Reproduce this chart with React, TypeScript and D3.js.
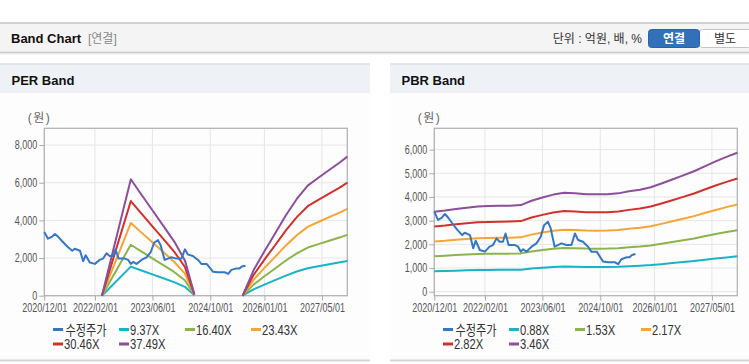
import { useEffect, useRef } from "react";
import * as d3 from "d3";

// 수정주가 (shared by both panels)
const priceDates = [
  "2020-12-01", "2021-01-01", "2021-02-01", "2021-03-01", "2021-04-01", "2021-05-01",
  "2021-06-15", "2021-07-25", "2021-08-15", "2021-09-28", "2021-10-25", "2021-11-15",
  "2021-12-20", "2022-02-01", "2022-03-12", "2022-04-10", "2022-05-10", "2022-06-05",
  "2022-07-03", "2022-07-25", "2022-08-20", "2022-10-12", "2022-11-08", "2022-12-01",
  "2022-12-20", "2023-01-18", "2023-03-01", "2023-04-12", "2023-05-18", "2023-06-15",
  "2023-07-18", "2023-08-10", "2023-09-12", "2023-10-10", "2023-11-08", "2023-12-20",
  "2024-02-01", "2024-03-01", "2024-03-28", "2024-05-08", "2024-06-20", "2024-07-18",
  "2024-09-01", "2024-09-28", "2024-10-25", "2024-12-06", "2025-02-03", "2025-03-01",
  "2025-03-28", "2025-05-10", "2025-06-05", "2025-06-25", "2025-07-25",
];
const priceValues = [
  3380, 3030, 3120, 3280, 3100, 2890,
  2600, 2390, 2490, 2390, 1830, 2150,
  1760, 1690, 1900, 1970, 2250, 2110,
  2110, 2460, 1970, 1970, 1900, 1690,
  1790, 1690, 1900, 2040, 2320, 2810,
  2950, 2670, 1900, 1970, 2040, 1970,
  1970, 2460, 2180, 2110, 1900, 1690,
  1690, 1480, 1270, 1240, 1240, 1160,
  1370, 1450, 1450, 1550, 1590,
];

// PER band (null = no band)
const perDates = [
  "2022-04-01", "2022-12-01", "2023-03-01", "2023-06-01", "2023-09-01", "2023-12-01",
  "2024-03-01", "2024-05-20", "2024-12-01", "2025-07-01", "2025-10-01", "2026-01-01",
  "2026-04-01", "2026-07-01", "2026-10-01", "2027-01-01", "2027-04-01", "2027-07-01",
  "2027-10-01", "2027-12-01",
];
const per937 = [0, 1546, 1340, 1134, 928, 721, 469, 19, null, 0, 337, 590, 825, 1068, 1284, 1462, 1565, 1668, 1771, 1846];
const per1640 = [0, 2706, 2345, 1984, 1624, 1263, 820, 33, null, 0, 590, 1033, 1443, 1870, 2247, 2558, 2739, 2919, 3100, 3231];
const per2343 = [0, 3866, 3350, 2835, 2320, 1804, 1172, 47, null, 0, 843, 1476, 2062, 2671, 3210, 3655, 3913, 4171, 4428, 4616];
const per3046 = [0, 5026, 4356, 3686, 3016, 2345, 1523, 61, null, 0, 1097, 1919, 2680, 3472, 4173, 4752, 5087, 5422, 5757, 6001];
const per3749 = [0, 6186, 5361, 4536, 3712, 2887, 1875, 75, null, 0, 1350, 2362, 3299, 4274, 5136, 5848, 6261, 6673, 7086, 7386];
const perLabels = ["9.37X", "16.40X", "23.43X", "30.46X", "37.49X"];
const perTicks = [0, 2000, 4000, 6000, 8000];

// PBR band
const pbrDates = [
  "2020-12-01", "2021-03-01", "2021-06-01", "2021-09-01", "2021-12-01", "2022-03-01",
  "2022-06-01", "2022-09-01", "2022-12-01", "2023-03-01", "2023-06-01", "2023-09-01",
  "2023-12-01", "2024-03-01", "2024-06-01", "2024-09-01", "2024-12-01", "2025-03-01",
  "2025-06-01", "2025-09-01", "2025-12-01", "2026-03-01", "2026-06-01", "2026-09-01",
  "2026-12-01", "2027-03-01", "2027-06-01", "2027-09-01", "2027-12-01",
];
const pbr088 = [858, 871, 889, 902, 915, 920, 922, 924, 930, 977, 1012, 1043, 1062, 1056, 1047, 1045, 1047, 1056, 1078, 1096, 1122, 1162, 1206, 1250, 1294, 1346, 1399, 1448, 1492];
const pbr153 = [1492, 1515, 1545, 1568, 1591, 1599, 1603, 1607, 1617, 1698, 1760, 1813, 1847, 1836, 1821, 1818, 1821, 1836, 1874, 1905, 1951, 2020, 2096, 2173, 2249, 2341, 2433, 2517, 2593];
const pbr217 = [2116, 2148, 2192, 2224, 2257, 2268, 2274, 2279, 2294, 2409, 2496, 2571, 2619, 2604, 2582, 2578, 2582, 2604, 2658, 2702, 2767, 2864, 2973, 3081, 3190, 3320, 3450, 3570, 3678];
const pbr282 = [2750, 2792, 2848, 2891, 2933, 2947, 2955, 2961, 2981, 3130, 3243, 3342, 3404, 3384, 3356, 3350, 3356, 3384, 3455, 3511, 3596, 3722, 3863, 4004, 4145, 4315, 4484, 4639, 4780];
const pbr346 = [3374, 3425, 3495, 3547, 3598, 3616, 3626, 3633, 3657, 3841, 3979, 4100, 4176, 4152, 4117, 4110, 4117, 4152, 4239, 4308, 4412, 4567, 4740, 4913, 5086, 5294, 5501, 5692, 5865];
const pbrLabels = ["0.88X", "1.53X", "2.17X", "2.82X", "3.46X"];
const pbrTicks = [0, 1000, 2000, 3000, 4000, 5000, 6000];

const xTickDates = ["2020-12-01", "2022-02-01", "2023-06-01", "2024-10-01", "2026-01-01", "2027-05-01"];
const priceLabel = "수정주가";
const colors = ["#3477c7", "#19b3c7", "#8bb44b", "#f5a533", "#d2302a", "#8d4e9c"];

const parse = d3.timeParse("%Y-%m-%d");
const fmtTick = d3.timeFormat("%Y/%m/%d");
const FONT = "'Liberation Sans', Arial, sans-serif";
const KFONT = "'Liberation Sans', 'Noto Sans CJK KR', sans-serif";
const NARROW = 0.75; // squeeze to mimic the narrow Korean UI font

function BandChart({ left, title, bandDates, bands, labels, ticks, yDomain }) {
  const ref = useRef(null);

  useEffect(() => {
    const g = d3.select(ref.current);
    g.selectAll("*").remove();
    g.attr("transform", `translate(${left},0)`);

    const plot = { left: 44.3, right: 347.3, top: 128.3, bottom: 295.7 };

    // panel
    g.append("rect").attr("x", 0).attr("y", 64).attr("width", 370).attr("height", 296).attr("fill", "#fdfdfd");
    g.append("rect").attr("x", 0).attr("y", 64).attr("width", 370).attr("height", 29).attr("fill", "#eef2f7");
    g.append("line").attr("x1", 0).attr("x2", 370).attr("y1", 64).attr("y2", 64).attr("stroke", "#dcdcdc").attr("stroke-width", 1.5);
    g.append("line").attr("x1", 0).attr("x2", 370).attr("y1", 360.5).attr("y2", 360.5).attr("stroke", "#d6d6d6").attr("stroke-width", 2);
    g.append("text")
      .attr("x", 11.5)
      .attr("y", 85)
      .attr("font-family", FONT)
      .attr("font-weight", "bold")
      .attr("font-size", 13)
      .attr("fill", "#111")
      .text(title);

    const x = d3
      .scaleTime()
      .domain([parse("2020-12-01"), parse("2027-12-01")])
      .range([plot.left, plot.right]);
    const y = d3.scaleLinear().domain(yDomain).range([plot.bottom, plot.top]);

    // grid
    const grid = g.append("g").attr("stroke", "#e6e6e6").attr("stroke-width", 1);
    ticks.forEach((t) => {
      grid.append("line").attr("x1", plot.left).attr("x2", plot.right).attr("y1", y(t)).attr("y2", y(t));
    });
    xTickDates.forEach((d) => {
      const xp = x(parse(d));
      grid.append("line").attr("x1", xp).attr("x2", xp).attr("y1", plot.top).attr("y2", plot.bottom);
    });

    g.append("rect")
      .attr("x", plot.left)
      .attr("y", plot.top)
      .attr("width", plot.right - plot.left)
      .attr("height", plot.bottom - plot.top)
      .attr("fill", "none")
      .attr("stroke", "#b4b4b4")
      .attr("stroke-width", 1.3);

    // y axis
    const yAxis = g
      .append("g")
      .attr("transform", `translate(${plot.left},0)`)
      .call(d3.axisLeft(y).tickValues(ticks).tickSize(5).tickPadding(2).tickFormat(d3.format(",")));
    yAxis.select(".domain").remove();
    yAxis.selectAll("line").attr("stroke", "#aaa");
    yAxis
      .selectAll("text")
      .attr("fill", "#555")
      .attr("font-size", 12)
      .attr("font-family", FONT)
      .attr("x", -7 / NARROW)
      .attr("transform", `scale(${NARROW},1)`);

    // x axis
    const xAxis = g
      .append("g")
      .attr("transform", `translate(0,${plot.bottom})`)
      .call(
        d3
          .axisBottom(x)
          .tickValues(xTickDates.map((d) => parse(d)))
          .tickSize(5)
          .tickPadding(3)
          .tickFormat(fmtTick)
      );
    xAxis.select(".domain").remove();
    xAxis.selectAll("line").attr("stroke", "#aaa");
    xAxis
      .selectAll("text")
      .attr("fill", "#555")
      .attr("font-size", 12)
      .attr("font-family", FONT)
      .attr("transform", `scale(${NARROW},1)`);

    g.append("text")
      .attr("x", 39.5)
      .attr("y", 122)
      .attr("text-anchor", "middle")
      .attr("font-size", 12)
      .attr("letter-spacing", 1.5)
      .attr("font-family", KFONT)
      .attr("fill", "#666")
      .text("(원)");

    const marks = g.append("g");

    const bandLine = d3
      .line()
      .defined((d) => d.value != null)
      .x((d) => x(d.date))
      .y((d) => y(d.value));

    bands.forEach((values, i) => {
      const data = bandDates.map((d, j) => ({ date: parse(d), value: values[j] }));
      marks
        .append("path")
        .datum(data)
        .attr("fill", "none")
        .attr("stroke", colors[i + 1])
        .attr("stroke-width", 2)
        .attr("stroke-linejoin", "round")
        .attr("d", bandLine);
    });

    const priceData = priceDates.map((d, j) => ({ date: parse(d), value: priceValues[j] }));
    marks
      .append("path")
      .datum(priceData)
      .attr("fill", "none")
      .attr("stroke", colors[0])
      .attr("stroke-width", 2)
      .attr("stroke-linejoin", "round")
      .attr("d", bandLine);

    // legend
    const names = [priceLabel, ...labels];
    const legend = g.append("g");
    names.forEach((name, i) => {
      const col = i % 4;
      const row = Math.floor(i / 4);
      const lx = 53 + col * 66;
      const ly = 329.5 + row * 14.5;
      legend
        .append("line")
        .attr("x1", lx)
        .attr("x2", lx + 10)
        .attr("y1", ly)
        .attr("y2", ly)
        .attr("stroke", colors[i])
        .attr("stroke-width", 3);
      legend
        .append("text")
        .attr("transform", `translate(${lx + (i === 0 ? 12.5 : 11)},${ly + 5}) scale(0.8,1)`)
        .attr("font-size", 14)
        .attr("font-family", KFONT)
        .attr("fill", "#333")
        .text(name);
    });
  }, [left, title, bandDates, bands, labels, ticks, yDomain]);

  return <g ref={ref} />;
}

export default function App() {
  return (
    <svg
      width={749}
      height={364}
      style={{ position: "absolute", left: 0, top: 0, background: "#fff" }}
    >
      <rect x={0} y={0} width={749} height={364} fill="#fff" />
      {/* top header bar */}
      <rect x={0} y={23} width={749} height={29} fill="#f4f4f4" />
      <line x1={0} x2={749} y1={23} y2={23} stroke="#c4c4c4" strokeWidth={1.5} />
      <line x1={0} x2={749} y1={52.5} y2={52.5} stroke="#c8c8c8" strokeWidth={1.5} />
      <line x1={0} x2={749} y1={54} y2={54} stroke="#ececec" strokeWidth={1.5} />
      <text x={11} y={42.5} fontFamily={FONT} fontWeight="bold" fontSize={13} fill="#111">
        Band Chart
      </text>
      <text x={88} y={42.5} fontFamily={KFONT} fontSize={12} fill="#888">
        [연결]
      </text>
      <text x={642} y={42.5} textAnchor="end" fontFamily={KFONT} fontSize={12} fill="#333">
        단위 : 억원, 배, %
      </text>
      <rect x={699.5} y={29.5} width={52} height={18} rx={3} fill="#fff" stroke="#c4c4c4" />
      <rect x={648.5} y={29.5} width={51} height={18} rx={3} fill="#3270b8" stroke="#2a62a4" />
      <text x={674} y={43} textAnchor="middle" fontFamily="'Noto Sans CJK KR', sans-serif" fontWeight="bold" fontSize={12} fill="#fff">
        연결
      </text>
      <text x={725} y={43} textAnchor="middle" fontFamily="'Noto Sans CJK KR', sans-serif" fontSize={12} fill="#333">
        별도
      </text>

      <BandChart
        left={0}
        title="PER Band"
        bandDates={perDates}
        bands={[per937, per1640, per2343, per3046, per3749]}
        labels={perLabels}
        ticks={perTicks}
        yDomain={[0, 8890]}
      />
      <BandChart
        left={390}
        title="PBR Band"
        bandDates={pbrDates}
        bands={[pbr088, pbr153, pbr217, pbr282, pbr346]}
        labels={pbrLabels}
        ticks={pbrTicks}
        yDomain={[-170, 6900]}
      />
    </svg>
  );
}
